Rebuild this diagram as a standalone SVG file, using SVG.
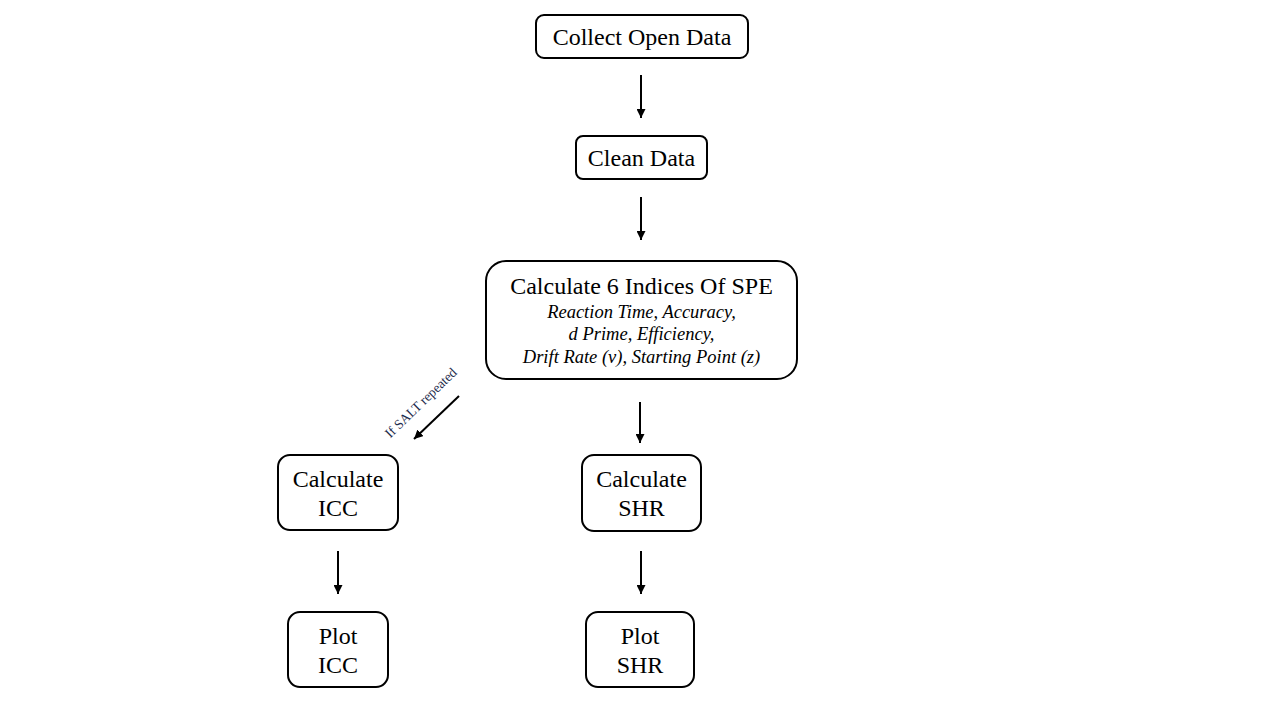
<svg xmlns="http://www.w3.org/2000/svg" width="1280" height="720" viewBox="0 0 1280 720">
<style>
.box{fill:#fff;stroke:#000;stroke-width:2}
.t{font-family:"Liberation Serif","Times New Roman",serif;font-size:24px;fill:#000;text-anchor:middle}
.i{font-family:"Liberation Serif","Times New Roman",serif;font-size:18.5px;font-style:italic;fill:#000;text-anchor:middle}
.c{stroke:#000;stroke-width:2;fill:none;marker-end:url(#ah)}
.lbl{font-family:"Liberation Serif","Times New Roman",serif;font-size:13.5px;fill:#1f2d4d;text-anchor:middle}
</style>
<defs>
<marker id="ah" viewBox="0 0 10 10" refX="10" refY="5" markerWidth="4.5" markerHeight="4.5" orient="auto" markerUnits="strokeWidth">
<path d="M0,0 L10,5 L0,10 z" fill="#000"/>
</marker>
</defs>
<rect width="1280" height="720" fill="#fff"/>
<g id="collect"><rect class="box" x="536" y="15" width="212" height="43" rx="8"/><text class="t" x="642" y="45">Collect Open Data</text></g>
<g id="clean"><rect class="box" x="576" y="136" width="131" height="43" rx="7"/><text class="t" x="641.5" y="166">Clean Data</text></g>
<g id="spe"><rect class="box" x="486" y="261" width="311" height="118" rx="20"/>
<text class="t" x="641.5" y="294">Calculate 6 Indices Of SPE</text>
<text class="i" x="641.5" y="318">Reaction Time, Accuracy,</text>
<text class="i" x="641.5" y="340">d Prime, Efficiency,</text>
<text class="i" x="641.5" y="363">Drift Rate (v), Starting Point (z)</text></g>
<g id="calcicc"><rect class="box" x="278" y="455" width="120" height="75" rx="12"/><text class="t" x="338" y="487">Calculate</text><text class="t" x="338" y="516">ICC</text></g>
<g id="calcshr"><rect class="box" x="582" y="455" width="119" height="76" rx="12"/><text class="t" x="641.5" y="487">Calculate</text><text class="t" x="641.5" y="516">SHR</text></g>
<g id="ploticc"><rect class="box" x="288" y="612" width="100" height="75" rx="12"/><text class="t" x="338" y="644">Plot</text><text class="t" x="338" y="673">ICC</text></g>
<g id="plotshr"><rect class="box" x="586" y="612" width="108" height="75" rx="12"/><text class="t" x="640" y="644">Plot</text><text class="t" x="640" y="673">SHR</text></g>
<g id="connectors">
<line class="c" x1="641" y1="75" x2="641" y2="118"/>
<line class="c" x1="641" y1="197" x2="641" y2="240"/>
<line class="c" x1="640" y1="402" x2="640" y2="443"/>
<line class="c" x1="338" y1="551" x2="338" y2="594"/>
<line class="c" x1="641" y1="551" x2="641" y2="594"/>
<line class="c" x1="459" y1="396" x2="414" y2="439"/>
<text class="lbl" transform="translate(424,406) rotate(-44)">If SALT repeated</text>
</g>
</svg>
